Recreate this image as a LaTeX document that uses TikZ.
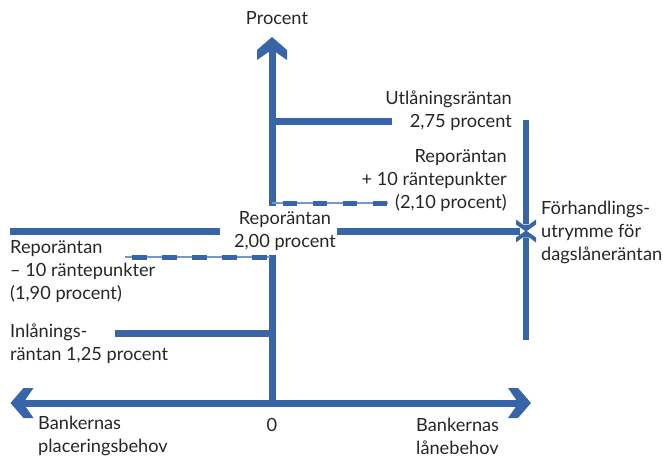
\documentclass[tikz,border=0pt]{standalone}
\usepackage{fontspec}
\setmainfont{Lato}
\definecolor{rb}{RGB}{56,100,168}
\definecolor{rbl}{RGB}{120,150,200}
\tikzset{
  bighead/.pic={\fill[rb] (0,0) -- (13,-15) -- (23,-15) -- (15,-3.5) -- (15,3.5) -- (23,15) -- (13,15) -- cycle;},
  smallhead/.pic={\fill[rb] (0,0) -- (7,-10) -- (12,-10) -- (7,-3.25) -- (7,3.25) -- (12,10) -- (7,10) -- cycle;},
  mainline/.style={draw=rb, line width=7pt, line cap=butt},
  thinline/.style={draw=rbl, line width=1.3pt},
  dashpart/.style={draw=rb, line width=5pt, dash pattern=on 14pt off 16pt},
  lbl/.style={font=\fontsize{18.2}{23}\selectfont, text=black!85, inner sep=0pt},
}
\begin{document}
\begin{tikzpicture}[x=1pt, y=-1pt]
\useasboundingbox (0,0) rectangle (663,457);
% coordinates
\coordinate (O) at (272,403);
\coordinate (Ytop) at (272,37);
\coordinate (Ytopb) at (272,51.5);
\coordinate (Yup) at (272,206);
\coordinate (Ylow) at (272,255);
\coordinate (Xl) at (10.5,403);
\coordinate (Xlb) at (25,403);
\coordinate (Xr) at (531,403);
\coordinate (Xrb) at (516.5,403);
\coordinate (Ua) at (268.5,122);
\coordinate (Ub) at (392,122);
\coordinate (Da) at (272,203);
\coordinate (Db) at (388,203);
\coordinate (Dc) at (283,203);
\coordinate (La) at (125,257);
\coordinate (Lb) at (270,257);
\coordinate (Lc) at (132,257);
\coordinate (Ra) at (10,231);
\coordinate (Rb) at (220,231);
\coordinate (Rc) at (337,231);
\coordinate (Rd) at (520,231);
\coordinate (Ia) at (115,333);
\coordinate (Ib) at (275.5,333);
\coordinate (Vt) at (526,120);
\coordinate (Vtm) at (526,224);
\coordinate (Vm) at (526,231);
\coordinate (Vbm) at (526,238);
\coordinate (Vb) at (526,340);
% axes
\draw[mainline] (Yup) -- (Ytopb);
\pic[rotate=-90] at (Ytop) {bighead};
\draw[mainline] (Ylow) -- (O);
\draw[mainline] (Xlb) -- (Xrb);
\pic at (Xl) {bighead};
\pic[rotate=180] at (Xr) {bighead};
% levels
\draw[mainline] (Ua) -- (Ub);
\draw[thinline] (Da) -- (Db);
\draw[dashpart] (Dc) -- (Db);
\draw[thinline] (La) -- (Lb);
\draw[dashpart, dash pattern=on 15pt off 15pt] (Lc) -- (Lb);
\draw[mainline] (Ra) -- (Rb);
\draw[mainline] (Rc) -- (Rd);
\draw[mainline] (Ia) -- (Ib);
% negotiation range
\draw[mainline, line width=6.5pt] (Vt) -- (Vtm);
\draw[mainline, line width=6.5pt] (Vb) -- (Vbm);
\pic[rotate=90] at ([yshift=-0.5pt]Vm) {smallhead};
\pic[rotate=-90] at ([yshift=0.5pt]Vm) {smallhead};
% labels
\node[lbl] (procent) at (277,18) {Procent};
\node[lbl, anchor=east, align=right] (utl) at (512,111) {Utlåningsräntan\\2,75 procent};
\node[lbl, anchor=east, align=right] (repplus) at (507,181) {Reporäntan\\+ 10 räntepunkter\\(2,10 procent)};
\node[lbl, align=center] (rep) at (285,231.5) {Reporäntan\\2,00 procent};
\node[lbl, anchor=west, align=left] (repminus) at (10,271.5) {Reporäntan\\– 10 räntepunkter\\(1,90 procent)};
\node[lbl, anchor=west, align=left] (inl) at (10,344) {Inlånings-\\räntan 1,25 procent};
\node[lbl, anchor=west, align=left] (forh) at (541,232) {Förhandlings-\\utrymme för\\dagslåneräntan};
\node[lbl, anchor=west, align=left] (plac) at (38,436) {Bankernas\\placeringsbehov};
\node[lbl] (zero) at (272,425) {0};
\node[lbl, anchor=west, align=left] (lane) at (416,436) {Bankernas\\lånebehov};
\end{tikzpicture}
\end{document}
